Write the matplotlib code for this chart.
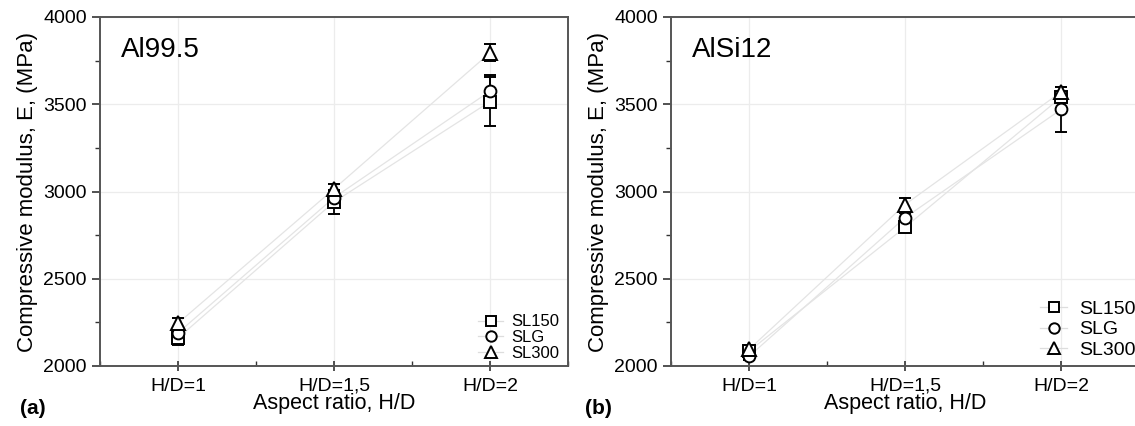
import numpy as np
import matplotlib.pyplot as plt
from matplotlib.ticker import MultipleLocator
from matplotlib.lines import Line2D

plt.rcParams['font.family'] = ['Liberation Sans', 'DejaVu Sans']

# categories
ratios = ['H/D=1', 'H/D=1,5', 'H/D=2']
series = ['SL150', 'SLG', 'SL300']
markers = ['s', 'o', '^']

# Al99.5 (a)
al_mean = {'SL150': [2160, 2940, 3515],
           'SLG':   [2190, 2965, 3575],
           'SL300': [2245, 3015, 3795]}
al_err = {'SL150': [40, 70, 140],
          'SLG':   [30, 40, 90],
          'SL300': [30, 30, 50]}

# AlSi12 (b)
si_mean = {'SL150': [2085, 2795, 3540],
           'SLG':   [2055, 2850, 3470],
           'SL300': [2095, 2925, 3570]}
si_err = {'SL150': [20, 20, 25],
          'SLG':   [20, 25, 130],
          'SL300': [15, 40, 30]}

W, H = 1135, 426
fig = plt.figure(figsize=(W / 100, H / 100), dpi=100)
ax1 = fig.add_axes([100 / W, 1 - 366 / H, (568 - 100) / W, (366 - 17) / H])
ax2 = fig.add_axes([671 / W, 1 - 366 / H, (1139 - 671) / W, (366 - 17) / H])

x = np.arange(len(ratios))


def draw(ax, mean, err, title, leg_fs, leg_anchor, leg_spacing, leg_hl, leg_pad):
    for s, m in zip(series, markers):
        ax.plot(x, mean[s], color='#e4e4e4', lw=0.9, zorder=1)
        ax.errorbar(x, mean[s], yerr=err[s], fmt=m, ms=8.5 if m != '^' else 10,
                    mfc='white', mec='black', mew=1.4, ecolor='black',
                    elinewidth=1.3, capsize=4, capthick=1.3, zorder=3)
    ax.set_xlim(-0.5, 2.5)
    ax.set_ylim(2000, 4000)
    ax.set_xticks(x)
    ax.set_xticklabels(ratios)
    ax.xaxis.set_minor_locator(MultipleLocator(0.5))
    ax.yaxis.set_major_locator(MultipleLocator(500))
    ax.yaxis.set_minor_locator(MultipleLocator(250))
    ax.tick_params(axis='y', which='major', direction='out', length=6,
                   width=1.2, labelsize=14, colors='#333333', labelcolor='black')
    ax.tick_params(axis='y', which='minor', direction='out', length=3.5,
                   width=1.0, colors='#333333')
    ax.tick_params(axis='x', which='major', direction='inout', length=7,
                   width=1.2, labelsize=14, colors='#333333', labelcolor='black', pad=5)
    ax.tick_params(axis='x', which='minor', direction='in', length=3.5,
                   width=1.0, colors='#333333')
    ax.grid(True, which='major', color='#ececec', lw=0.9)
    ax.set_axisbelow(True)
    for sp in ax.spines.values():
        sp.set_color('#555555')
        sp.set_linewidth(1.4)
    ax.set_ylabel('Compressive modulus, E, (MPa)', fontsize=16, labelpad=4)
    ax.set_xlabel('Aspect ratio, H/D', fontsize=15.5, labelpad=-1)
    ax.text(0.045, 0.905, title, transform=ax.transAxes, fontsize=20,
            va='center', ha='left')
    hs = [Line2D([], [], color='#dddddd', lw=0.9, marker=m,
                 ms=7.5 if m != '^' else 9,
                 mfc='white', mec='black', mew=1.4) for m in markers]
    ax.legend(hs, series, loc='lower left', bbox_to_anchor=leg_anchor,
              bbox_transform=fig.transFigure, frameon=False, fontsize=leg_fs,
              handlelength=leg_hl, handletextpad=leg_pad, labelspacing=leg_spacing,
              borderaxespad=0, borderpad=0)


draw(ax1, al_mean, al_err, 'Al99.5', 12, (478 / W, 1 - 361 / H), 0.05, 1.5, 0.5)
draw(ax2, si_mean, si_err, 'AlSi12', 14, (1040 / W, 1 - 359 / H), 0.15, 1.4, 0.6)

fig.text(20 / W, 1 - 408 / H, '(a)', fontsize=15, fontweight='bold', va='center')
fig.text(585 / W, 1 - 408 / H, '(b)', fontsize=15, fontweight='bold', va='center')

fig.savefig('out.png', dpi=100)
